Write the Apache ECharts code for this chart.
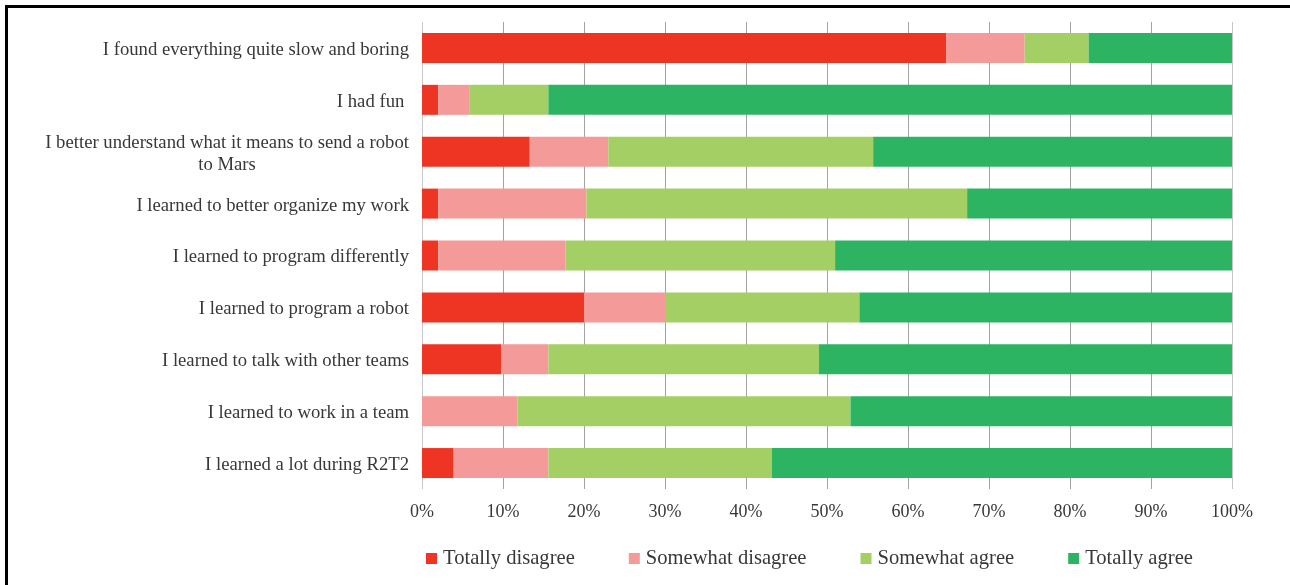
<!DOCTYPE html>
<html>
<head>
<meta charset="utf-8">
<style>
  html, body { margin: 0; padding: 0; background: #fff; }
  #chart { width: 1290px; height: 585px; }
</style>
<script src="https://cdn.jsdelivr.net/npm/echarts@6/dist/echarts.min.js"></script>
</head>
<body>
<div id="chart"></div>
<script>
// Survey statements, top to bottom
const statements = [
  'I found everything quite slow and boring',
  'I had fun ',
  'I better understand what it means to send a robot\nto Mars',
  'I learned to better organize my work',
  'I learned to program differently',
  'I learned to program a robot',
  'I learned to talk with other teams',
  'I learned to work in a team',
  'I learned a lot during R2T2'
];

// Share of answers per statement (%)
const totallyDisagree  = [64.7, 2.0, 13.3, 2.0, 2.0, 20.0, 9.8, 0.0, 3.9];
const somewhatDisagree = [9.7, 3.9, 9.7, 18.3, 15.7, 10.0, 5.8, 11.8, 11.7];
const somewhatAgree    = [7.9, 9.7, 32.7, 47.0, 33.3, 24.0, 33.4, 41.1, 27.6];
const totallyAgree     = [17.7, 84.4, 44.3, 32.7, 49.0, 46.0, 51.0, 47.1, 56.8];

const seriesNames = ['Totally disagree', 'Somewhat disagree', 'Somewhat agree', 'Totally agree'];
const seriesColors = ['#EE3524', '#F49A98', '#A4CF64', '#2DB463'];
const tickValues = [0, 10, 20, 30, 40, 50, 60, 70, 80, 90, 100];

const FONT = 'Liberation Serif';
const TEXT = '#383838';

const chart = echarts.init(document.getElementById('chart'), null, { renderer: 'canvas' });

const valueSets = [totallyDisagree, somewhatDisagree, somewhatAgree, totallyAgree];

// Outer gridlines (0% and 100%) are lighter than the inner ones
const splitColors = tickValues.map((v, i) =>
  (i === 0 || i === tickValues.length - 1) ? '#c8c8c8' : '#a3a3a3');

chart.setOption({
  animation: false,
  backgroundColor: '#ffffff',
  graphic: [{
    type: 'rect',
    left: 4, top: 4,
    shape: { width: 1320, height: 620 },
    style: { fill: 'none', stroke: '#000', lineWidth: 3 },
    silent: true
  }],
  grid: { left: 422, right: 58, top: 22, bottom: 96, containLabel: false },
  legend: {
    data: seriesNames,
    left: 426,
    top: 548,
    padding: 0,
    icon: 'rect',
    itemWidth: 11,
    itemHeight: 11,
    itemGap: 54,
    textStyle: { fontFamily: FONT, fontSize: 20.6, color: TEXT, padding: [0, 0, 0, 1] }
  },
  xAxis: {
    type: 'value',
    min: 0,
    max: 100,
    interval: 10,
    axisLine: { show: false },
    axisTick: { show: false },
    axisLabel: {
      formatter: '{value}%',
      fontFamily: FONT,
      fontSize: 18,
      color: TEXT,
      margin: 14
    },
    splitLine: { show: true, lineStyle: { color: splitColors, width: 1 } }
  },
  yAxis: {
    type: 'category',
    inverse: true,
    data: statements,
    axisLine: { show: false },
    axisTick: { show: false },
    axisLabel: {
      fontFamily: FONT,
      fontSize: 18.7,
      color: TEXT,
      margin: 13,
      lineHeight: 22,
      padding: [4, 0, 0, 0],
      formatter: function (v) {
        if (v.indexOf('\n') >= 0) {
          const parts = v.split('\n');
          return '{a|' + parts[0] + '}\n{c|' + parts[1] + '}';
        }
        return v;
      },
      rich: {
        a: { fontFamily: FONT, fontSize: 18.7, color: TEXT, lineHeight: 22 },
        c: { fontFamily: FONT, fontSize: 18.7, color: TEXT, lineHeight: 22, width: 364, align: 'center' }
      }
    }
  },
  series: seriesNames.map((name, i) => ({
    name: name,
    type: 'bar',
    stack: 'total',
    barWidth: 30,
    data: valueSets[i],
    itemStyle: { color: seriesColors[i] },
    emphasis: { disabled: true }
  }))
});
</script>
</body>
</html>
